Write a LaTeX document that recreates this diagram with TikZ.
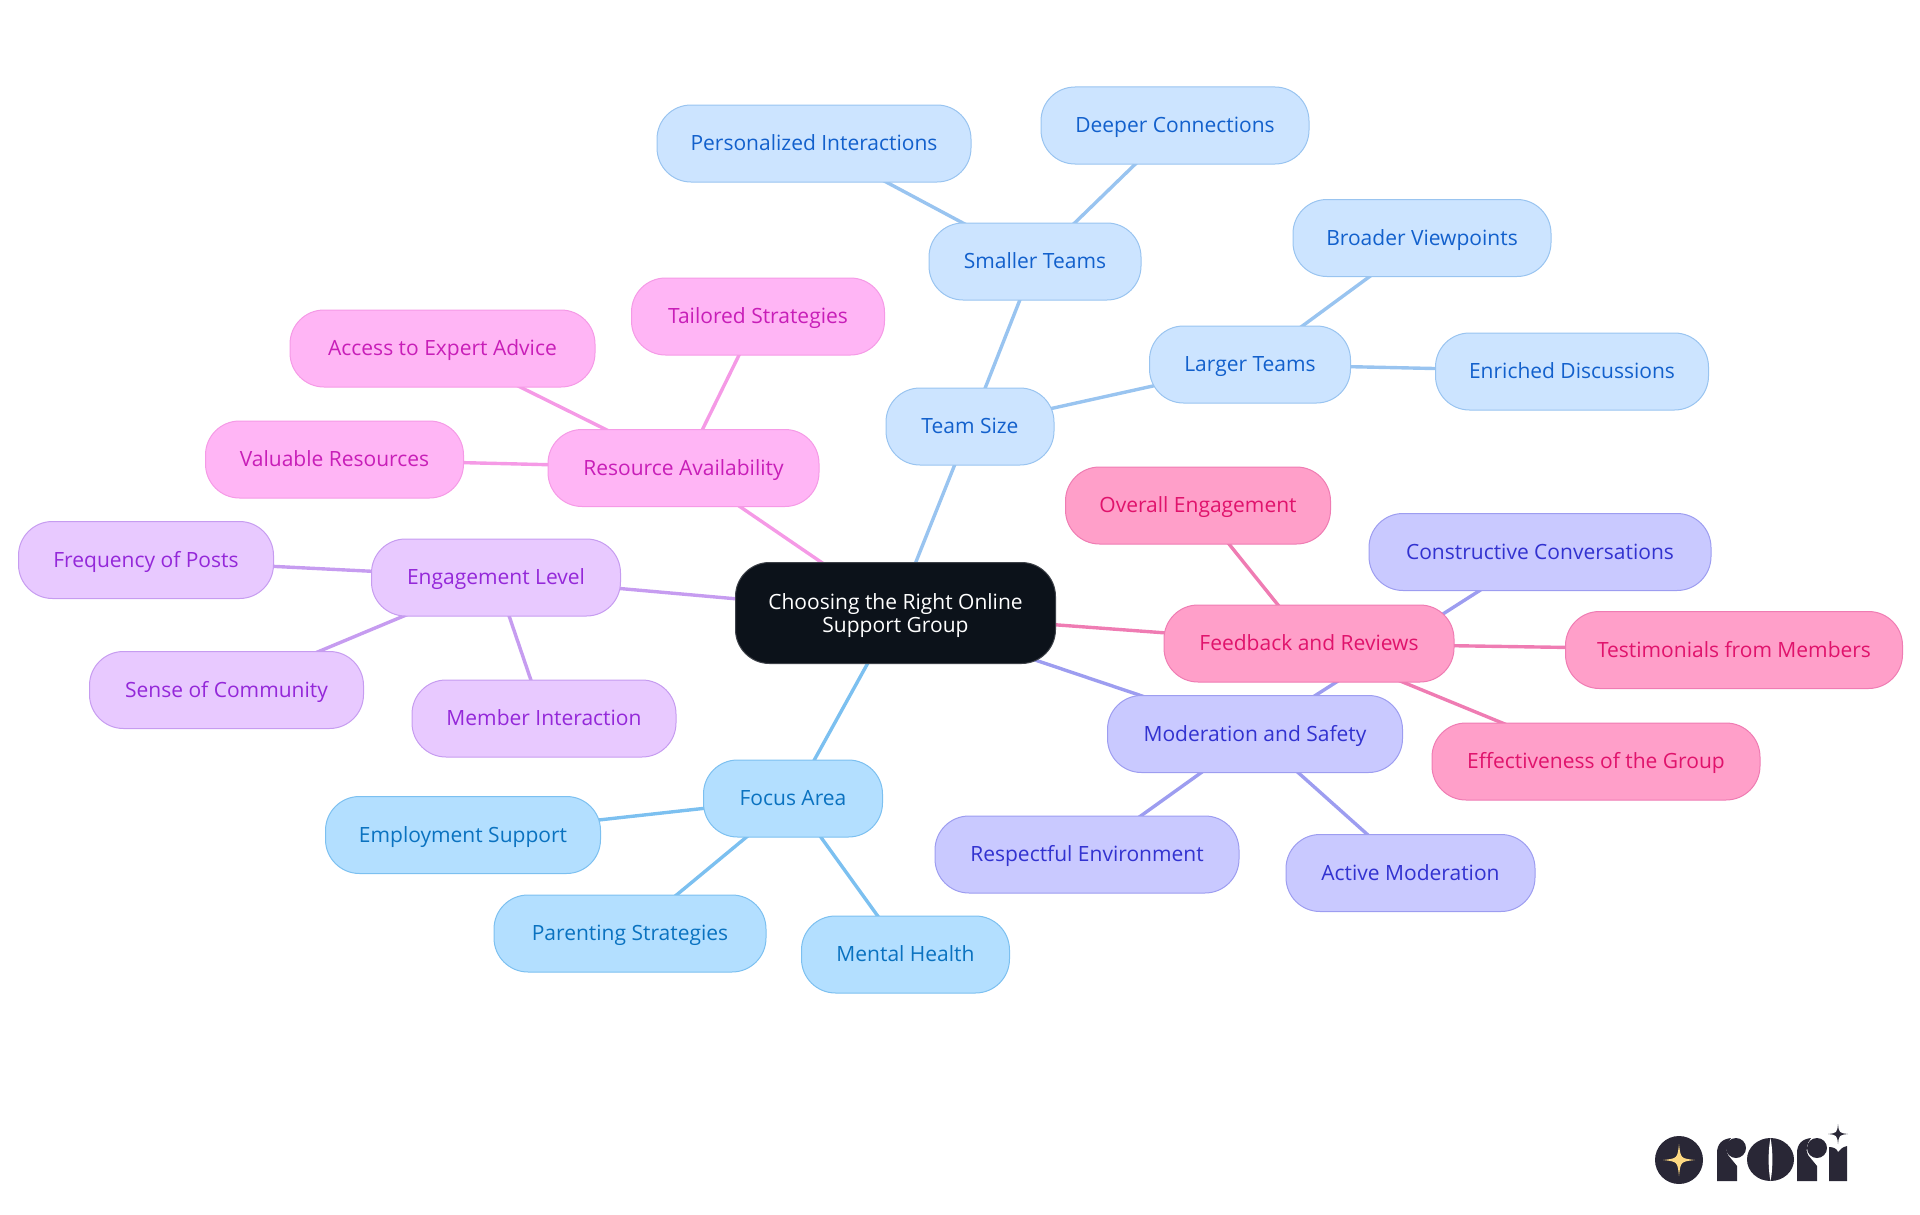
\documentclass[tikz,border=0pt]{standalone}
\usepackage{fontspec}
\setmainfont{Open Sans}
\definecolor{rootfill}{RGB}{12,18,26}
\definecolor{teamfill}{RGB}{204,228,255}
\definecolor{teamline}{RGB}{153,196,240}
\definecolor{teamtext}{RGB}{18,96,204}
\definecolor{resourcefill}{RGB}{255,181,245}
\definecolor{resourceline}{RGB}{245,154,230}
\definecolor{resourcetext}{RGB}{200,30,184}
\definecolor{engagefill}{RGB}{232,201,255}
\definecolor{engageline}{RGB}{198,156,240}
\definecolor{engagetext}{RGB}{148,40,217}
\definecolor{focusfill}{RGB}{179,223,255}
\definecolor{focusline}{RGB}{124,192,240}
\definecolor{focustext}{RGB}{10,114,192}
\definecolor{safetyfill}{RGB}{201,201,255}
\definecolor{safetyline}{RGB}{157,157,240}
\definecolor{safetytext}{RGB}{50,50,208}
\definecolor{reviewfill}{RGB}{255,159,201}
\definecolor{reviewline}{RGB}{239,124,179}
\definecolor{reviewtext}{RGB}{224,19,108}
\definecolor{roriink}{RGB}{41,39,54}
\definecolor{rorigold}{RGB}{253,217,130}
\usetikzlibrary{backgrounds}
\newcommand{\rorisparkle}[4]{\fill[#1] (#2,#3-#4) .. controls (#2+0.1*#4,#3-0.1*#4) .. (#2+#4,#3) .. controls (#2+0.1*#4,#3+0.1*#4) .. (#2,#3+#4) .. controls (#2-0.1*#4,#3+0.1*#4) .. (#2-#4,#3) .. controls (#2-0.1*#4,#3-0.1*#4) .. cycle;}
\tikzset{
  box/.style={rectangle,rounded corners=34pt,line width=1pt,inner sep=0pt,minimum height=77pt,text height=17pt,text depth=3pt,font=\fontsize{21}{23}\selectfont},
  rootbox/.style={box,fill=rootfill,draw=rootfill!80!white,text=white,minimum height=101pt,text height=,text depth=0pt,align=center},
  teambox/.style={box,fill=teamfill,draw=teamline,text=teamtext},
  resourcebox/.style={box,fill=resourcefill,draw=resourceline,text=resourcetext},
  engagebox/.style={box,fill=engagefill,draw=engageline,text=engagetext},
  focusbox/.style={box,fill=focusfill,draw=focusline,text=focustext},
  safetybox/.style={box,fill=safetyfill,draw=safetyline,text=safetytext},
  reviewbox/.style={box,fill=reviewfill,draw=reviewline,text=reviewtext},
  link/.style={line width=3.4pt}
}
\begin{document}
\begin{tikzpicture}[x=1pt,y=-1pt]
  \useasboundingbox (0,0) rectangle (1920,1215);
  \node[rootbox,minimum width=320pt] (root) at (895.5,613) {Choosing the Right Online\\Support Group};
  % team size
  \node[teambox,minimum width=168pt] (teamsize) at (970,426.5) {Team Size};
  \node[teambox,minimum width=212pt] (smaller) at (1035,261.5) {Smaller Teams};
  \node[teambox,minimum width=201pt] (larger) at (1250,364.5) {Larger Teams};
  \node[teambox,minimum width=314pt] (personal) at (814,143.5) {Personalized Interactions};
  \node[teambox,minimum width=268pt] (deeper) at (1175,125.5) {Deeper Connections};
  \node[teambox,minimum width=258pt] (broader) at (1422,238) {Broader Viewpoints};
  \node[teambox,minimum width=273pt] (enriched) at (1572,371.5) {Enriched Discussions};
  % resources
  \node[resourcebox,minimum width=271pt] (resource) at (683.5,468) {Resource Availability};
  \node[resourcebox,minimum width=253pt] (tailored) at (758,316.5) {Tailored Strategies};
  \node[resourcebox,minimum width=305pt] (expert) at (442.5,348.5) {Access to Expert Advice};
  \node[resourcebox,minimum width=258pt] (valuable) at (334.5,459.5) {Valuable Resources};
  % engagement
  \node[engagebox,minimum width=249pt] (engage) at (496,577.5) {Engagement Level};
  \node[engagebox,minimum width=255pt] (posts) at (146,560) {Frequency of Posts};
  \node[engagebox,minimum width=274pt] (community) at (226.5,690) {Sense of Community};
  \node[engagebox,minimum width=264pt] (member) at (544,718.5) {Member Interaction};
  % focus
  \node[focusbox,minimum width=179pt] (focus) at (793,798.5) {Focus Area};
  \node[focusbox,minimum width=275pt] (employ) at (463,835) {Employment Support};
  \node[focusbox,minimum width=272pt] (parent) at (630,933.5) {Parenting Strategies};
  \node[focusbox,minimum width=208pt] (mental) at (905.5,954.5) {Mental Health};
  % moderation
  \node[safetybox,minimum width=295pt] (safety) at (1255,734) {Moderation and Safety};
  \node[safetybox,minimum width=342pt] (construct) at (1540,552) {Constructive Conversations};
  \node[safetybox,minimum width=304pt] (respect) at (1087,854.5) {Respectful Environment};
  \node[safetybox,minimum width=249pt] (active) at (1410.5,873) {Active Moderation};
  % feedback
  \node[reviewbox,minimum width=290pt] (review) at (1309,643.5) {Feedback and Reviews};
  \node[reviewbox,minimum width=265pt] (overall) at (1198,505.5) {Overall Engagement};
  \node[reviewbox,minimum width=337pt] (testimony) at (1734,650) {Testimonials from Members};
  \node[reviewbox,minimum width=328pt] (effect) at (1596,761.5) {Effectiveness of the Group};
  \begin{pgfonlayer}{background}
    \draw[link,teamline] (root.center) -- (teamsize.center);
    \draw[link,teamline] (teamsize.center) -- (smaller.center);
    \draw[link,teamline] (teamsize.center) -- (larger.center);
    \draw[link,teamline] (smaller.center) -- (personal.center);
    \draw[link,teamline] (smaller.center) -- (deeper.center);
    \draw[link,teamline] (larger.center) -- (broader.center);
    \draw[link,teamline] (larger.center) -- (enriched.center);
    \draw[link,resourceline] (root.center) -- (resource.center);
    \draw[link,resourceline] (resource.center) -- (tailored.center);
    \draw[link,resourceline] (resource.center) -- (expert.center);
    \draw[link,resourceline] (resource.center) -- (valuable.center);
    \draw[link,engageline] (root.center) -- (engage.center);
    \draw[link,engageline] (engage.center) -- (posts.center);
    \draw[link,engageline] (engage.center) -- (community.center);
    \draw[link,engageline] (engage.center) -- (member.center);
    \draw[link,focusline] (root.center) -- (focus.center);
    \draw[link,focusline] (focus.center) -- (employ.center);
    \draw[link,focusline] (focus.center) -- (parent.center);
    \draw[link,focusline] (focus.center) -- (mental.center);
    \draw[link,safetyline] (root.center) -- (safety.center);
    \draw[link,safetyline] (safety.center) -- (construct.center);
    \draw[link,safetyline] (safety.center) -- (respect.center);
    \draw[link,safetyline] (safety.center) -- (active.center);
    \draw[link,reviewline] (root.center) -- (review.center);
    \draw[link,reviewline] (review.center) -- (overall.center);
    \draw[link,reviewline] (review.center) -- (testimony.center);
    \draw[link,reviewline] (review.center) -- (effect.center);
  \end{pgfonlayer}
  % logo
  \fill[roriink] (1679,1160) circle (24);
  \rorisparkle{rorigold}{1679}{1160}{16}
  \fill[roriink] (1717,1181) -- (1717,1153) .. controls (1717,1144) and (1722,1139) .. (1731,1138) .. controls (1727,1143) and (1725,1150) .. (1728,1155) -- (1737,1166) -- (1737,1181) -- cycle;
  \fill[roriink] (1736,1148) circle (10);
  \fill[roriink] (1770.5,1159.5) ellipse (23.5 and 21.5);
  \fill[white] (1770.5,1138) .. controls (1768,1150) and (1768,1169) .. (1770.5,1181) .. controls (1773,1169) and (1773,1150) .. cycle;
  \fill[roriink] (1797,1181) -- (1797,1153) .. controls (1797,1144) and (1802,1139) .. (1811,1138) .. controls (1807,1143) and (1805,1150) .. (1808,1155) -- (1817,1166) -- (1817,1181) -- cycle;
  \fill[roriink] (1817,1148) circle (10);
  \fill[roriink] (1829,1181) -- (1829,1147) .. controls (1834,1147) and (1837,1149) .. (1838,1152) .. controls (1840,1149) and (1843,1147) .. (1847,1146) -- (1847,1181) -- cycle;
  \rorisparkle{roriink}{1838}{1134}{10}
\end{tikzpicture}
\end{document}
